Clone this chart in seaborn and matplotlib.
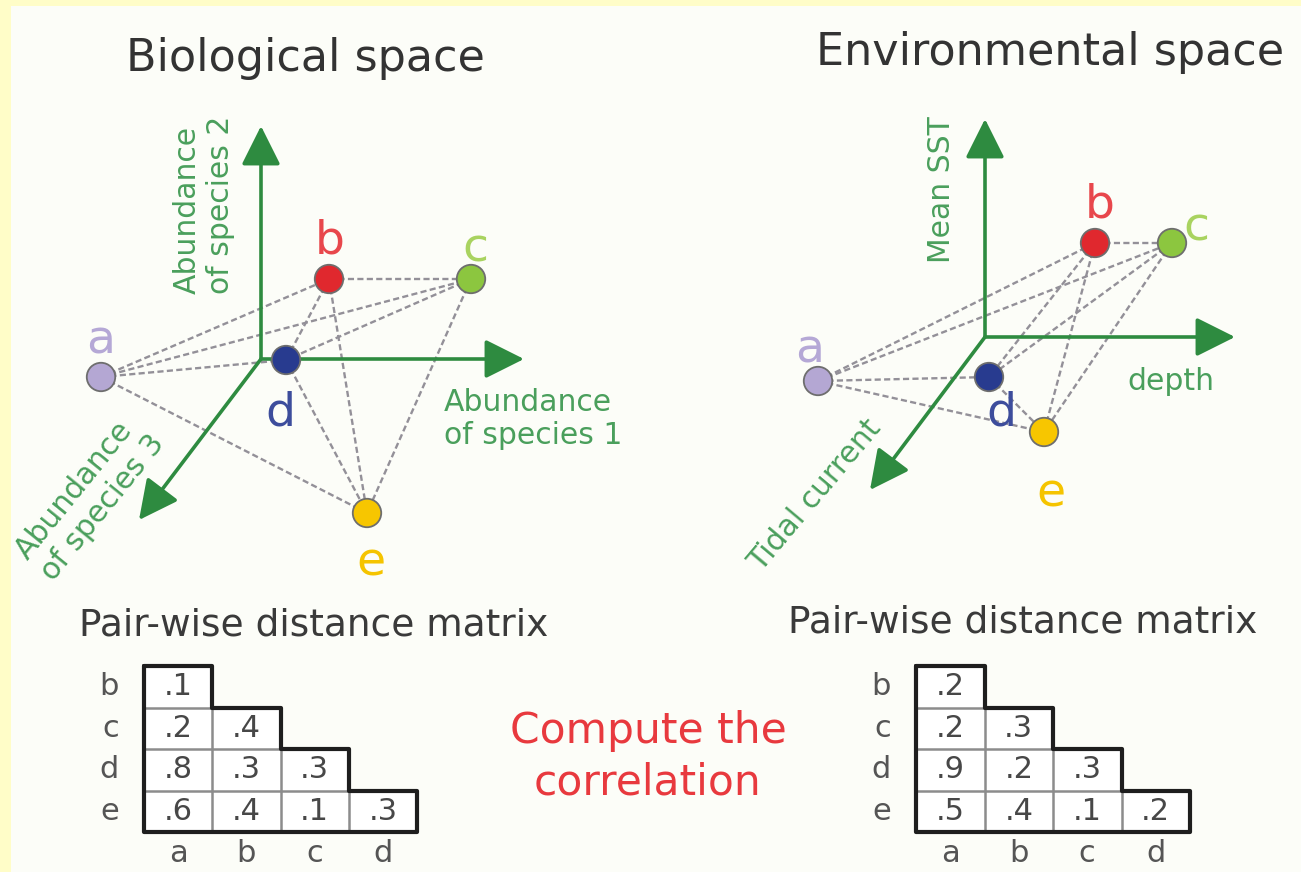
import itertools
import numpy as np
import pandas as pd
import matplotlib.pyplot as plt
import seaborn as sns
from matplotlib.colors import ListedColormap

# point names and colours (shared by both spaces)
names = ["a", "b", "c", "d", "e"]
point_colors = ["#b4a7d3", "#e0282e", "#8cc63f", "#283b8f", "#f7c600"]
label_colors = ["#b5a8d6", "#e8474c", "#a9d360", "#3d4d9c", "#f5c400"]

# projected positions of the sites, relative to each panel's axis origin (x right, y up)
bio_x = [-160, 68, 210, 25, 106]
bio_y = [-18, 80, 80, -1, -154]
env_x = [-167, 110, 187, 4, 59]
env_y = [-44, 94, 94, -40, -95]

bio_axis_labels = ["Abundance\nof species 1", "Abundance\nof species 2", "Abundance\nof species 3"]
env_axis_labels = ["depth", "Mean SST", "Tidal current"]

# pair-wise distance matrices (lower triangle)
pair_rows = ["b", "c", "d", "e"]
pair_cols = ["a", "b", "c", "d"]
bio_dist = [[.1], [.2, .4], [.8, .3, .3], [.6, .4, .1, .3]]
env_dist = [[.2], [.2, .3], [.9, .2, .3], [.5, .4, .1, .2]]

W, H = 1301, 872
GREEN = "#2e8b40"
GREEN_TXT = "#4a9f5c"

sns.set_theme(style="white")
plt.rcParams['font.family'] = ['DejaVu Sans']

fig = plt.figure(figsize=(W / 100, H / 100), dpi=100, facecolor="#fffdc8")
ax = fig.add_axes([11 / W, 0, 1 - 11 / W, 1 - 6 / H])
ax.set_facecolor("#fcfdf8")
for s in ax.spines.values():
    s.set_visible(False)


def draw_space(origin, xs, ys, tips, offsets):
    ox, oy = origin
    px = [ox + x for x in xs]
    py = [oy - y for y in ys]
    # dashed links between all sites
    for i, j in itertools.combinations(range(len(names)), 2):
        ax.plot([px[i], px[j]], [py[i], py[j]], ls=(0, (2.6, 1.4)), lw=1.7,
                color="#939098", zorder=2)
    # the three axes
    for tx, ty in tips:
        ax.annotate("", xy=(ox + tx, oy - ty), xytext=(ox, oy), zorder=3,
                    arrowprops=dict(arrowstyle="-|>,head_length=1.1,head_width=0.55",
                                    lw=2.6, color=GREEN, mutation_scale=22,
                                    shrinkA=0, shrinkB=0))
    df = pd.DataFrame({"x": px, "y": py, "name": names})
    sns.scatterplot(data=df, x="x", y="y", hue="name",
                    palette=dict(zip(names, point_colors)), s=420,
                    edgecolor="#6e6e6e", linewidth=1.3, legend=False, ax=ax, zorder=4)
    for k, n in enumerate(names):
        dx, dy = offsets[k]
        ax.text(px[k] + dx, py[k] - dy, n, ha="center", va="center",
                fontsize=34, color=label_colors[k], zorder=5)


draw_space((261, 359), bio_x, bio_y, [(0, 233), (263, 0), (-122, -161)],
           [(0, 36), (1, 38), (4, 30), (-6, -53), (4, -50)])
draw_space((985, 337), env_x, env_y, [(0, 218), (250, 0), (-115, -153)],
           [(-8, 31), (5, 38), (24, 15), (12, -36), (7, -62)])

# axis labels
ax.text(444, 419, bio_axis_labels[0], ha="left", va="center", fontsize=21.5, color=GREEN_TXT)
ax.text(204, 205, bio_axis_labels[1], ha="center", va="center", rotation=90,
        multialignment="left", fontsize=21.5, color=GREEN_TXT)
ax.text(90, 497, bio_axis_labels[2], ha="center", va="center", rotation=51,
        multialignment="left", fontsize=21.5, color=GREEN_TXT)
ax.text(1171, 381, env_axis_labels[0], ha="center", va="center", fontsize=21.5, color=GREEN_TXT)
ax.text(941, 190, env_axis_labels[1], ha="center", va="center", rotation=90,
        fontsize=21.5, color=GREEN_TXT)
ax.text(815, 495, env_axis_labels[2], ha="center", va="center", rotation=50,
        fontsize=21.5, color=GREEN_TXT)

# titles
ax.text(305, 71, "Biological space", ha="center", va="baseline", fontsize=32, color="#333333")
ax.text(1050, 65, "Environmental space", ha="center", va="baseline", fontsize=32, color="#333333")
ax.text(314, 635, "Pair-wise distance matrix", ha="center", va="baseline", fontsize=27, color="#3a3a3a")
ax.text(1023, 632, "Pair-wise distance matrix", ha="center", va="baseline", fontsize=27, color="#3a3a3a")
ax.text(648, 757, "Compute the\ncorrelation", ha="center", va="center", fontsize=30.5,
        color="#e8393e", linespacing=1.3)

ax.set_xlim(11, W)
ax.set_ylim(H, 6)
ax.set_xticks([])
ax.set_yticks([])
ax.set_xlabel("")
ax.set_ylabel("")


def draw_matrix(rect, values):
    n = len(pair_rows)
    grid = np.full((n, len(pair_cols)), np.nan)
    for i, row in enumerate(values):
        grid[i, :len(row)] = row
    annot = [[f"{v:.1f}".lstrip("0") if not np.isnan(v) else "" for v in r] for r in grid]
    hax = fig.add_axes(rect)
    sns.heatmap(pd.DataFrame(grid, index=pair_rows, columns=pair_cols),
                mask=np.isnan(grid), cmap=ListedColormap(["white"]), cbar=False,
                annot=np.array(annot), fmt="", annot_kws=dict(fontsize=22, color="#474747"),
                linewidths=0, ax=hax)
    hax.set_facecolor("none")
    hax.tick_params(length=0, labelsize=22, labelcolor="#555555")
    hax.tick_params(axis="y", pad=18, labelrotation=0)
    hax.tick_params(axis="x", pad=5)
    hax.set_xlabel("")
    hax.set_ylabel("")
    # inner grid, only inside the lower triangle
    for k in range(1, n):
        hax.plot([0, k], [k, k], color="#8c8c8c", lw=1.8, zorder=4)
        hax.plot([k, k], [k, n], color="#8c8c8c", lw=1.8, zorder=4)
    # staircase outline
    sx, sy = [0], [0]
    for k in range(n):
        sx += [k + 1, k + 1]
        sy += [k, k + 1]
    sx += [0, 0]
    sy += [n, 0]
    hax.plot(sx, sy, color="#1e1e1e", lw=3, clip_on=False, zorder=5)


draw_matrix([144 / W, 1 - 832 / H, 273 / W, 166 / H], bio_dist)
draw_matrix([916 / W, 1 - 832 / H, 274 / W, 166 / H], env_dist)

fig.savefig("out.png", dpi=100, facecolor=fig.get_facecolor())
